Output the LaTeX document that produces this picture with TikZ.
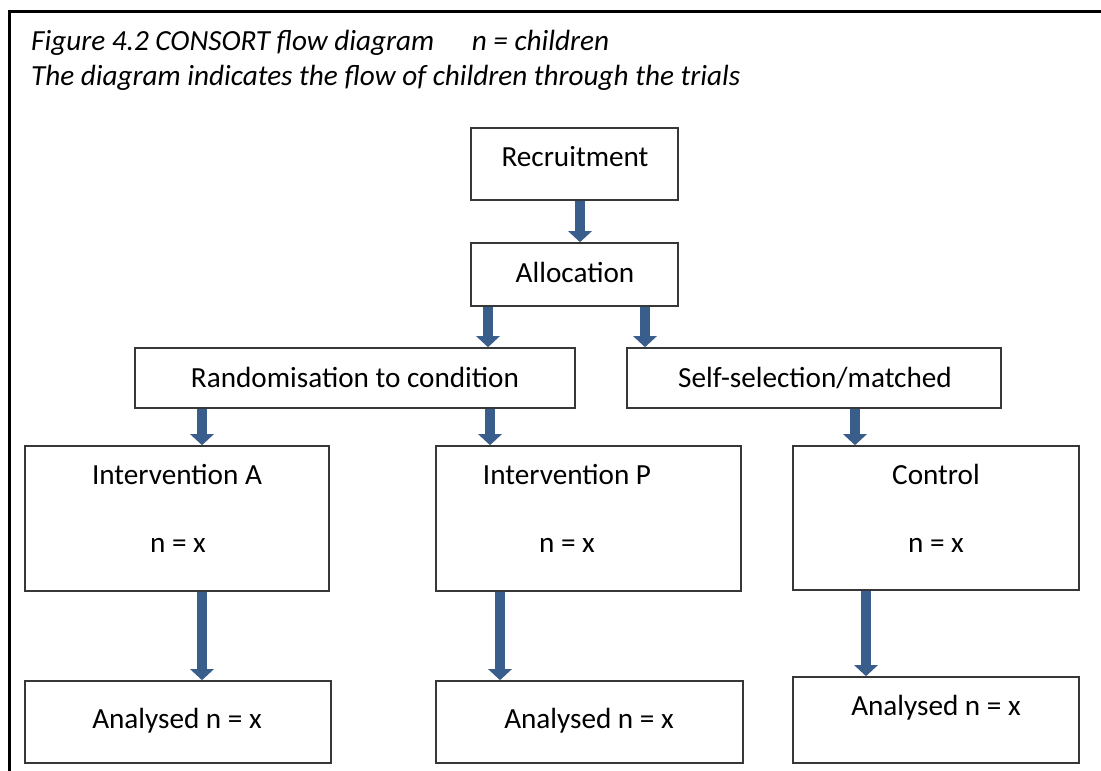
\documentclass[tikz,border=0pt]{standalone}
\usepackage{fontspec}
\setmainfont{Carlito}
\usetikzlibrary{arrows.meta}
\definecolor{arrowblue}{RGB}{58,94,140}
\definecolor{boxline}{RGB}{55,55,55}
\tikzset{
  box/.style={draw=boxline, line width=1.6pt, fill=white, inner sep=0pt},
  txt/.style={inner sep=0pt, anchor=base, font=\fontsize{29.2}{35}\selectfont},
  captxt/.style={inner sep=0pt, anchor=base west, font=\fontsize{29.2}{35}\selectfont\itshape},
  flow/.style={draw=arrowblue, line width=10pt,
    -{Triangle[width=23pt,length=11pt]}, arrowblue},
}
% a box from its corners: \flowbox{name}{x1}{y1}{x2}{y2}
\newcommand{\flowbox}[5]{%
  \node[box, minimum width={#4-#2}, minimum height={#5-#3}] (#1) at ({(#2+#4)/2},{(#3+#5)/2}) {};}
\begin{document}
\begin{tikzpicture}[x=1pt, y=-1pt]
\useasboundingbox (0,0) rectangle (1101,771);
% outer frame, open at the right and the bottom
\draw[line width=3pt, black] (9.5,780) -- (9.5,11) -- (1110,11);

% caption
\node[captxt] (cap1) at (31,50) {Figure 4.2 CONSORT flow diagram\hspace{31pt} n = children};
\node[captxt] (cap2) at (31,85) {The diagram indicates the flow of children through the trials};

% boxes
\flowbox{recruit}{471}{128}{678}{200}
\flowbox{alloc}{471}{243}{678}{306}
\flowbox{rand}{135}{348}{575}{408}
\flowbox{self}{627}{348}{1001}{408}
\flowbox{intA}{25}{446}{329}{591}
\flowbox{intP}{436}{446}{741}{591}
\flowbox{ctrl}{793}{446}{1079}{590}
\flowbox{anA}{25}{681}{331}{763}
\flowbox{anP}{436}{681}{743}{763}
\flowbox{anC}{793}{677}{1079}{763}

% box texts
\node[txt] (tRec) at (575,166) {Recruitment};
\node[txt] (tAll) at (575,282) {Allocation};
\node[txt] (tRand) at (355,387) {Randomisation to condition};
\node[txt] (tSelf) at (815,387) {Self-selection/matched};
\node[txt] (tIA) at (177,484) {Intervention A};
\node[txt] (nIA) at (178,552) {n = x};
\node[txt] (tIP) at (567,484) {Intervention P};
\node[txt] (nIP) at (567,552) {n = x};
\node[txt] (tC) at (936,484) {Control};
\node[txt] (nC) at (936,552) {n = x};
\node[txt] (tAA) at (177,728) {Analysed n = x};
\node[txt] (tAP) at (589,728) {Analysed n = x};
\node[txt] (tAC) at (936,715) {Analysed n = x};

% block arrows
\draw[flow] ([xshift=5.5pt]recruit.south) -- ([xshift=5.5pt]recruit.south |- alloc.north);
\draw[flow] ([xshift=-86.5pt]alloc.south) -- ([xshift=-86.5pt]alloc.south |- rand.north);
\draw[flow] ([xshift=70.5pt]alloc.south) -- ([xshift=70.5pt]alloc.south |- self.north);
\draw[flow] ([xshift=-153pt]rand.south) -- ([xshift=-153pt]rand.south |- intA.north);
\draw[flow] ([xshift=135pt]rand.south) -- ([xshift=135pt]rand.south |- intP.north);
\draw[flow] ([xshift=41pt]self.south) -- ([xshift=41pt]self.south |- ctrl.north);
\draw[flow] ([xshift=25pt]intA.south) -- ([xshift=25pt]intA.south |- anA.north);
\draw[flow] ([xshift=-88.5pt]intP.south) -- ([xshift=-88.5pt]intP.south |- anP.north);
\draw[flow] ([xshift=-70pt]ctrl.south) -- ([xshift=-70pt]ctrl.south |- anC.north);
\end{tikzpicture}
\end{document}
